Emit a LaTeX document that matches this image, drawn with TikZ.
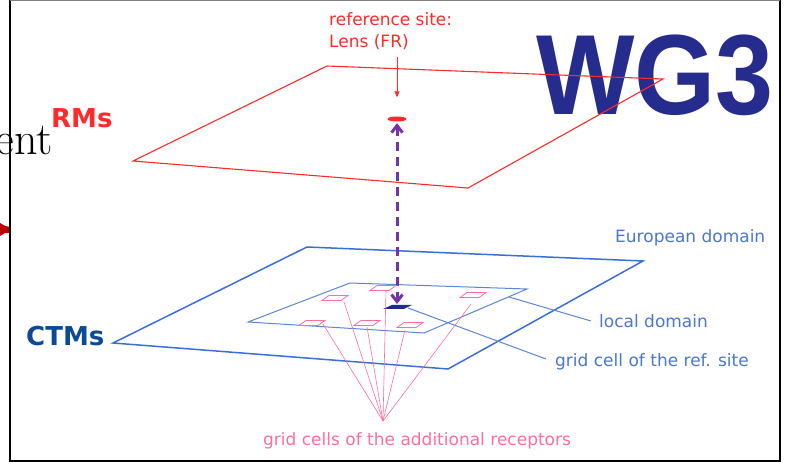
\documentclass[tikz,border=0pt]{standalone}
\usepackage{fontspec}
\newfontfamily\verd{DejaVu Sans}
\newfontfamily\heavy{Liberation Sans}
\usetikzlibrary{arrows.meta,shapes.geometric}

\definecolor{rmred}{HTML}{FF2A2A}
\definecolor{ctmblue}{HTML}{3A6FD8}
\definecolor{locblue}{HTML}{5B86D6}
\definecolor{lblblue}{HTML}{4A78D0}
\definecolor{ctmdark}{HTML}{0B4A96}
\definecolor{recpink}{HTML}{FF6F9C}
\definecolor{vecpurple}{HTML}{7434A8}
\definecolor{cellnavy}{HTML}{1E2C8C}
\definecolor{wgnavy}{HTML}{262B8E}
\definecolor{tipred}{HTML}{C00000}

\begin{document}
\begin{tikzpicture}[x=1pt,y=-1pt,
    lbl/.style={font=\verd\fontsize{17}{20}\selectfont, inner sep=0pt, anchor=base west},
    tag/.style={font=\verd\bfseries\fontsize{26}{28}\selectfont, inner sep=0pt, anchor=base west},
    rcell/.style={draw=recpink, line width=0.8pt},
    ray/.style={draw=recpink, line width=0.6pt}]
  \useasboundingbox (0,0) rectangle (788,462);

  % slide frame and what is left of the slide around it
  \fill[tipred] (0,223) -- (5,226) -- (10,227) -- (10,233) -- (5,233) -- (0,236) -- cycle;
  \draw[line width=2pt] (10,0) -- (10,461) -- (780,461) -- (780,0);
  \draw[gray, line width=1pt] (10,0.5) -- (780,0.5);
  \node[font=\fontsize{46}{46}\selectfont, inner sep=0pt, anchor=base east] (ent) at (53,155) {ent};

  % title
  \node[font=\heavy\bfseries\fontsize{114}{114}\selectfont, text=wgnavy, inner sep=0pt, anchor=base west] (wg) at (536,115) {\scalebox{0.915}[1]{WG3}};

  % RM plane
  \coordinate (r1) at (133,161);
  \coordinate (r2) at (327,66);
  \coordinate (r3) at (663,79);
  \coordinate (r4) at (468,188);
  \draw[rmred, line width=1.1pt] (r1) -- (r2) -- (r3) -- (r4) -- cycle;
  \node[tag, text=rmred] (rms) at (51,128) {RMs};

  \node[ellipse, fill=rmred, minimum width=19pt, minimum height=5pt, inner sep=0pt] (site) at (397,119) {};
  \node[lbl, text=rmred] (ref1) at (329,26) {reference site:};
  \node[lbl, text=rmred] (ref2) at (329,48) {Lens (FR)};
  \coordinate (reftail) at (397,57);
  \draw[rmred, line width=0.8pt, -{Triangle[length=6pt,width=5pt]}] (reftail) -- (site.north) [shorten >=19pt];

  % CTM planes
  \coordinate (e1) at (113,343);
  \coordinate (e2) at (307,247);
  \coordinate (e3) at (643,261);
  \coordinate (e4) at (448,369);
  \draw[ctmblue, line width=1.5pt] (e1) -- (e2) -- (e3) -- (e4) -- cycle;
  \node[tag, text=ctmdark] (ctms) at (26,346) {CTMs};

  \coordinate (l1) at (248,322);
  \coordinate (l2) at (350,283);
  \coordinate (l3) at (527,289);
  \coordinate (l4) at (424,333);
  \draw[locblue, line width=1pt] (l1) -- (l2) -- (l3) -- (l4) -- cycle;

  \coordinate (refcell) at (397,307);
  \fill[cellnavy] (refcell) ++(-14,2) -- ++(9,-4) -- ++(20,0) -- ++(-8,4) -- cycle;

  \draw[vecpurple, line width=3pt, dash pattern=on 9pt off 6pt,
        {Straight Barb[length=7pt,width=11pt]}-{Straight Barb[length=7pt,width=11pt]}]
        (site.south) -- (refcell) [shorten <=1.5pt, shorten >=3pt];

  % labels of the blue planes
  \node[lbl, text=lblblue] (eulbl) at (615,243) {European domain};
  \node[lbl, text=lblblue] (loclbl) at (599,328) {local domain};
  \node[lbl, text=lblblue] (gcllbl) at (555,367) {grid cell of the ref. site};
  \coordinate (locfoot) at (509,297);
  \coordinate (locend) at (591,321);
  \coordinate (gclfoot) at (408,308);
  \coordinate (gclend) at (546,359);
  \draw[locblue, line width=1pt] (locfoot) -- (locend);
  \draw[locblue, line width=1pt] (gclfoot) -- (gclend);

  % additional receptors
  \foreach \n/\x/\y in {1/335/298, 2/383/288, 3/473/295, 4/312/323, 5/367/323, 6/410/325}
    \coordinate (cell\n) at (\x,\y);
  \foreach \n in {1,...,6}
    \draw[rcell] (cell\n) ++(-13,2.5) -- ++(7,-5) -- ++(19,0) -- ++(-7,5) -- cycle;

  \coordinate (apex) at (383,421);
  \foreach \n/\x/\y in {1/344/302, 2/386/290, 3/471/304, 4/323/324, 5/367/327, 6/405/330}
    \coordinate (foot\n) at (\x,\y);
  \foreach \n in {1,...,6}
    \draw[ray] (foot\n) -- (apex);
  \node[lbl, text=recpink] (rcptlbl) at (263,446) {grid cells of the additional receptors};
\end{tikzpicture}
\end{document}
